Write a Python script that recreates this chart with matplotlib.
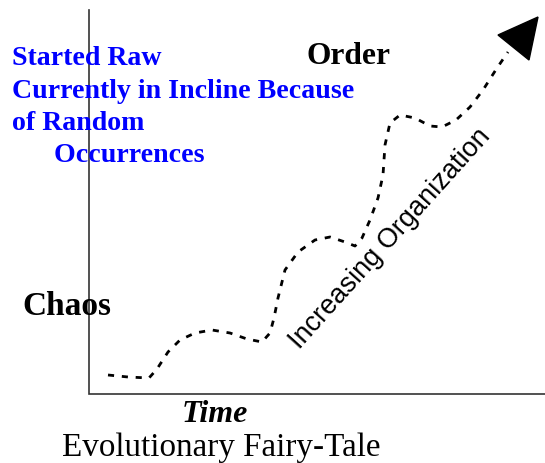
import numpy as np
import matplotlib.pyplot as plt
from matplotlib.patches import Polygon

# path of the dotted "organization over time" line (picture pixel coords)
path_x = [108, 128, 149, 157, 168, 180, 195, 212, 230, 247, 262, 270, 274, 278,
          285, 298, 315, 330, 345, 355, 362, 370, 378, 383, 385, 390, 400, 415,
          430, 442, 456, 470, 483, 497, 508]
path_y = [375, 377, 378, 369, 352, 340, 333, 330, 333, 339, 342, 333, 318, 298,
          270, 252, 240, 237, 242, 246, 238, 220, 198, 175, 145, 123, 115, 118,
          126, 127, 120, 107, 90, 68, 52]
arrow_x = [498, 538, 529]
arrow_y = [35, 17, 60]

blue_lines = ['Started Raw', 'Currently in Incline Because', 'of Random', '      Occurrences']

W, H = 545, 463
fig = plt.figure(figsize=(W / 100, H / 100), dpi=100)
ax = fig.add_axes([0, 0, 1, 1])
ax.set_xlim(0, W)
ax.set_ylim(H, 0)
ax.axis('off')

# axes lines
ax.plot([89, 89, W], [10, 394, 394], color='#333333', lw=1.2, solid_joinstyle='miter')

ax.plot(path_x, path_y, color='black', lw=2.0, linestyle=(0, (2.2, 2.8)),
        dash_capstyle='butt', dash_joinstyle='round')
ax.add_patch(Polygon(np.column_stack([arrow_x, arrow_y]), closed=True,
                     facecolor='black', edgecolor='black'))

serif = 'Liberation Serif'
for i, s in enumerate(blue_lines):
    ax.text(12, 65 + i * 32.5, s, color='#0000ff', fontsize=20.1, fontweight='bold',
            family=serif, va='baseline', ha='left')

ax.text(307, 64, 'Order', fontsize=22.7, fontweight='bold', family=serif, va='baseline')
ax.text(22, 315, 'Chaos', fontsize=24, fontweight='bold', family=serif, va='baseline')
ax.text(215, 422, 'Time', fontsize=23, fontweight='bold', style='italic', family=serif,
        va='baseline', ha='center')
ax.text(62, 456, 'Evolutionary Fairy-Tale', fontsize=23.9, family=serif, va='baseline')
ax.text(390, 239, 'Increasing Organization', fontsize=19.5, family='Liberation Sans',
        rotation=48, rotation_mode='anchor', ha='center', va='center')

fig.savefig('out.png', dpi=100)
